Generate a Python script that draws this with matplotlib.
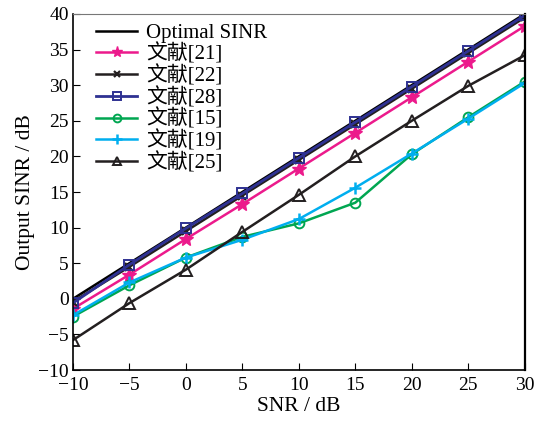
import matplotlib
matplotlib.use("Agg")
import matplotlib.pyplot as plt
import numpy as np

plt.rcParams["font.family"] = ["Liberation Serif", "Noto Sans CJK SC"]
plt.rcParams["axes.unicode_minus"] = True

SNR = [-10, -5, 0, 5, 10, 15, 20, 25, 30]
OPTIMAL = [0.0, 5.0, 10.0, 15.0, 20.0, 25.0, 30.0, 35.0, 40.0]
REF21 = [-1.4, 3.4, 8.4, 13.3, 18.3, 23.3, 28.3, 33.3, 38.3]
REF22 = [-0.4, 4.5, 9.5, 14.5, 19.5, 24.5, 29.5, 34.5, 39.5]
REF28 = [-0.6, 4.8, 9.9, 14.8, 19.8, 24.8, 29.8, 34.8, 39.8]
REF15 = [-2.5, 1.9, 5.8, 8.7, 10.6, 13.5, 20.3, 25.5, 30.5]
REF19 = [-2.3, 2.3, 5.8, 8.3, 11.2, 15.6, 20.4, 25.3, 30.3]
REF25 = [-5.8, -0.6, 4.1, 9.4, 14.6, 20.0, 25.0, 29.9, 34.2]

fig = plt.figure(figsize=(5.36, 4.22), dpi=100)
ax = fig.add_axes([0.136, 0.123, 0.843, 0.844])

ax.plot(SNR, OPTIMAL, color="black", linewidth=1.8, label="Optimal SINR")
ax.plot(SNR, REF21, color="#ec1a8c", linewidth=1.8, marker="*", markersize=10,
        label="文献[21]")
ax.plot(SNR, REF22, color="#231f20", linewidth=1.8, marker="x", markersize=6,
        markeredgewidth=1.6, label="文献[22]")
ax.plot(SNR, REF28, color="#2e3192", linewidth=2.0, marker="s", markersize=6.5,
        markerfacecolor="none", markeredgewidth=1.4, label="文献[28]")
ax.plot(SNR, REF15, color="#00a651", linewidth=1.8, marker="o", markersize=7,
        markerfacecolor="none", markeredgewidth=1.4, label="文献[15]")
ax.plot(SNR, REF19, color="#00aeef", linewidth=1.8, marker="+", markersize=9,
        markeredgewidth=1.8, label="文献[19]")
ax.plot(SNR, REF25, color="#231f20", linewidth=1.8, marker="^", markersize=8,
        markerfacecolor="none", markeredgewidth=1.4, label="文献[25]")

ax.set_xlim(-10, 30)
ax.set_ylim(-10, 40)
ax.set_xticks(np.arange(-10, 31, 5))
ax.set_yticks(np.arange(-10, 41, 5))
ax.tick_params(direction="in", labelsize=14, length=5, top=False, right=False)
ax.tick_params(axis="x", pad=5)
ax.tick_params(axis="y", pad=3)
ax.set_xlabel("SNR / dB", fontsize=15.5, labelpad=2)
ax.set_ylabel("Output SINR / dB", fontsize=15.5, labelpad=2)

ax.spines["top"].set_color("#777777")
ax.spines["right"].set_linewidth(1.6)
ax.spines["left"].set_linewidth(1.2)
ax.spines["bottom"].set_linewidth(1.2)

ax.legend(loc="upper left", frameon=False, fontsize=15, handlelength=2.0,
          labelspacing=0.02, borderaxespad=0.0, borderpad=0.45,
          handletextpad=0.4, markerscale=0.8, bbox_to_anchor=(0.03, 1.0))

fig.savefig("out.png", dpi=100)
